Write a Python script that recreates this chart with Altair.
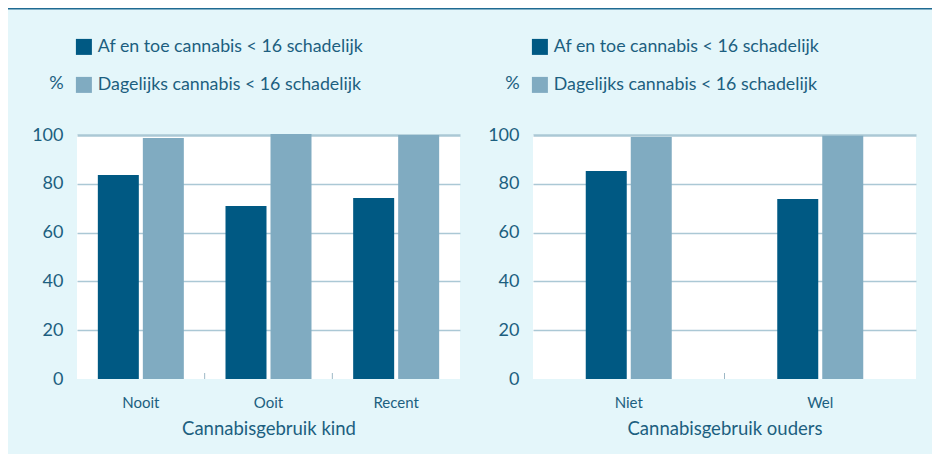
import altair as alt
import pandas as pd

# Data
kind_cats = ["Nooit", "Ooit", "Recent"]
kind_af = [83.6, 70.9, 74.2]
kind_dag = [98.8, 100.4, 100.0]

ouders_cats = ["Niet", "Wel"]
ouders_af = [85.2, 73.8]
ouders_dag = [99.2, 99.7]

series = ["Af en toe cannabis < 16 schadelijk", "Dagelijks cannabis < 16 schadelijk"]
y_ticks = [0, 20, 40, 60, 80, 100]

DARK = "#005983"
LIGHT = "#80ABC1"
TEXT = "#1C5F80"
GRID = "#ABC8D5"
BG = "#E4F6FA"
LINE = "#1F6A92"
FONT = "Lato"

W, H = 383, 244


def panel(cats, af, dag, xtitle, rule_left, rule_right):
    df = pd.DataFrame({
        "cat": cats * 2,
        "serie": [series[0]] * len(cats) + [series[1]] * len(cats),
        "val": af + dag,
    })
    xscale = alt.Scale(domain=cats, paddingInner=0, paddingOuter=0)
    color = alt.Color(
        "serie:N",
        scale=alt.Scale(domain=series, range=[DARK, LIGHT]),
        legend=alt.Legend(
            title=None, orient="none", legendX=-2, legendY=-97,
            symbolType="square", symbolSize=256, symbolStrokeWidth=0,
            symbolOpacity=1, labelFontSize=17.8, labelColor=TEXT, labelFont=FONT,
            rowPadding=19, labelOffset=5, padding=0, labelLimit=0,
        ),
    )
    xaxis = alt.Axis(
        title=xtitle, labelAngle=0, ticks=False, tickSize=0, domain=False,
        labelFontSize=15, labelColor=TEXT, labelFont=FONT, labelPadding=16,
        titleFontSize=18.5, titleFont=FONT, titleColor=TEXT,
        titleFontWeight="normal", titlePadding=9, grid=False,
    )
    x = alt.X("cat:N", scale=xscale, sort=cats, axis=xaxis)
    y = alt.Y(
        "val:Q", scale=alt.Scale(domain=[0, 100], nice=False),
        axis=alt.Axis(
            values=y_ticks, title="%", titleAngle=0, titleX=-21, titleY=-52,
            titleAlign="center", titleBaseline="middle", titleFontSize=18,
            titleFont=FONT, titleColor=TEXT, titleFontWeight="normal",
            ticks=False, tickSize=0, domain=False, labelFontSize=18,
            labelColor=TEXT, labelFont=FONT, labelPadding=14,
            grid=True,
            gridColor={"condition": {"test": "datum.value === 0", "value": "transparent"},
                       "value": GRID},
            gridWidth={"condition": {"test": "datum.value === 100", "value": 2.5},
                       "value": 1.5},
        ),
    )
    base = alt.Chart(df)
    dark = base.transform_filter(alt.datum.serie == series[0]).mark_bar(
        width=41, xOffset=-22.5).encode(x=x, y=y, color=color)
    light = base.transform_filter(alt.datum.serie == series[1]).mark_bar(
        width=41, xOffset=22.5).encode(x=x, y=y, color=color)

    ticks = alt.Chart(pd.DataFrame({"cat": cats[1:]})).mark_rule(
        color="#9DB8C6", strokeWidth=1).encode(
        x=alt.X("cat:N", scale=xscale, bandPosition=0, axis=xaxis),
        y=alt.value(H - 6), y2=alt.value(H))

    top = alt.Chart(pd.DataFrame({"k": [0]})).mark_rect(
        color=LINE, strokeWidth=0).encode(
        x=alt.value(rule_left), x2=alt.value(rule_right),
        y=alt.value(-127), y2=alt.value(-125.5))

    return alt.layer(dark, light, ticks, top).properties(width=W, height=H)


left = panel(kind_cats, kind_af, kind_dag, "Cannabisgebruik kind", -69, W + 23)
right = panel(ouders_cats, ouders_af, ouders_dag, "Cannabisgebruik ouders", -50, 399)

chart = alt.hconcat(left, right, spacing=0).resolve_scale(
    color="independent").resolve_legend(color="independent").properties(
    background=BG,
    padding={"left": 0, "top": 0, "right": 0, "bottom": 16},
).configure_view(stroke=None, fill="white")

chart.save("out.html", embed_options={"renderer": "svg", "actions": False})
